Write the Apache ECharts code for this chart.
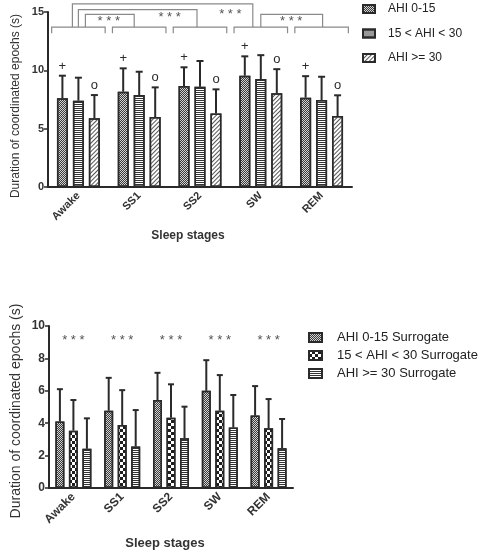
<!DOCTYPE html>
<html><head><meta charset="utf-8">
<script src="https://cdn.jsdelivr.net/npm/echarts@6/dist/echarts.min.js"></script>
<style>html,body{margin:0;padding:0;background:#fff}#c{width:484px;height:553px}</style>
</head><body><div id="c"></div>
<script>
// ---------- data ----------
const categories = ['Awake', 'SS1', 'SS2', 'SW', 'REM'];

const topNames = ['AHI 0-15', '15 < AHI < 30', 'AHI >= 30'];
const topMean0 = [7.6, 8.17, 8.65, 9.54, 7.66];
const topMean1 = [7.4, 7.88, 8.6, 9.25, 7.46];
const topMean2 = [5.9, 6.0, 6.3, 8.03, 6.08];
const topUpper0 = [9.54, 10.17, 10.26, 11.2, 9.5];
const topUpper1 = [9.37, 9.88, 10.8, 11.3, 9.45];
const topUpper2 = [7.88, 8.54, 8.37, 10.1, 7.86];
const topMarks = ['+', '', 'o'];
const topYMin = 0, topYMax = 15, topYStep = 5;

// comparisons between sleep stages: [fromIndex, toIndex, bracketTopValue, starValue]
const comparisons = [[0, 1, 14.8, 14.2], [0, 2, 15.2, 14.5], [0, 3, 15.7, 14.8], [3, 4, 14.8, 14.2]];
const comparisonLabel = '* * *';
const stageBracketValue = 13.7;

const botNames = ['AHI 0-15 Surrogate', '15 < AHI < 30 Surrogate', 'AHI >= 30 Surrogate'];
const botMean0 = [4.1, 4.77, 5.43, 6.0, 4.47];
const botMean1 = [3.54, 3.89, 4.34, 4.77, 3.69];
const botMean2 = [2.42, 2.56, 3.07, 3.73, 2.46];
const botUpper0 = [6.1, 6.8, 7.11, 7.89, 6.29];
const botUpper1 = [5.43, 6.04, 6.4, 6.97, 5.49];
const botUpper2 = [4.3, 4.81, 5.02, 5.74, 4.26];
const botStarValue = 9.1;
const botYMin = 0, botYMax = 10, botYStep = 2;

const yTitle = 'Duration of coordinated epochs (s)';
const xTitle = 'Sleep stages';

// ---------- styles ----------
const FONT = 'Liberation Sans, Arial, sans-serif';
const INK = '#2a2a2a';
const decalFine = { symbol: 'rect', symbolSize: 1, color: '#3a3a3a', dashArrayX: [[1, 1], [0, 1, 1, 0]], dashArrayY: [1, 0] };
const decalHoriz = { symbol: 'rect', symbolSize: 1, color: '#333', dashArrayX: [1, 0], dashArrayY: [1, 1] };
const decalDiag = { symbol: 'rect', symbolSize: 1, color: '#555', dashArrayX: [1, 0], dashArrayY: [1, 1.6], rotation: -Math.PI / 4 };
const decalChecker = { symbol: 'rect', symbolSize: 1, color: '#1e1e1e', dashArrayX: [[3, 3], [0, 3, 3, 0]], dashArrayY: [3, 0] };

function barSeries(name, data, gi, fill, decal, width, gap) {
  return {
    type: 'bar', name, data, xAxisIndex: gi, yAxisIndex: gi,
    barWidth: width, barGap: gap, z: 2,
    itemStyle: { color: fill, borderColor: INK, borderWidth: 1.5, decal }
  };
}

function errSeries(gi, means, uppers, offset, mark, cap) {
  return {
    type: 'custom', xAxisIndex: gi, yAxisIndex: gi, clip: false, z: 1,
    data: means.map((m, i) => [i, m, uppers[i]]),
    encode: { x: 0, y: [1, 2] },
    renderItem: (params, api) => {
      const i = api.value(0);
      const p0 = api.coord([i, api.value(1)]);
      const p1 = api.coord([i, api.value(2)]);
      const x = p0[0] + offset;
      const ch = [
        { type: 'line', shape: { x1: x, y1: p0[1], x2: x, y2: p1[1] }, style: { stroke: INK, lineWidth: 2 } },
        { type: 'line', shape: { x1: x - cap, y1: p1[1], x2: x + cap, y2: p1[1] }, style: { stroke: INK, lineWidth: 2 } }
      ];
      if (mark) ch.push({ type: 'text', style: { text: mark, x: x, y: p1[1] - 3, align: 'center', verticalAlign: 'bottom', fontSize: 13, fill: INK, fontFamily: FONT } });
      return { type: 'group', children: ch };
    }
  };
}

const stageBrackets = {
  type: 'custom', xAxisIndex: 0, yAxisIndex: 0, clip: false, z: 3,
  data: categories.map((c, i) => [i, stageBracketValue]),
  encode: { x: 0, y: 1 },
  renderItem: (params, api) => {
    const i = api.value(0);
    const p = api.coord([i, api.value(1)]);
    const half = api.size([1, 0])[0] * 0.44;
    const drop = 6;
    return { type: 'polyline', shape: { points: [[p[0] - half, p[1] + drop], [p[0] - half, p[1]], [p[0] + half, p[1]], [p[0] + half, p[1] + drop]] }, style: { stroke: '#8a8a8a', lineWidth: 1.2, fill: null } };
  }
};

const endOffsets = [[7, -5], [0, -3], [-6, -8], [0, 1]];
const compBrackets = {
  type: 'custom', xAxisIndex: 0, yAxisIndex: 0, clip: false, z: 3,
  data: comparisons.map((c, k) => [c[0], c[2], c[1], c[3], k]),
  encode: { x: 0, y: 1 },
  renderItem: (params, api) => {
    const a = api.value(0), top = api.value(1), b = api.value(2), sv = api.value(3), k = api.value(4);
    const pa = api.coord([a, top]), pb = api.coord([b, top]);
    const base = api.coord([a, stageBracketValue])[1];
    const xa = pa[0] + endOffsets[k][0], xb = pb[0] + endOffsets[k][1];
    const pm1 = api.coord([b - 1, sv]), pm2 = api.coord([b, sv]);
    return {
      type: 'group', children: [
        { type: 'polyline', shape: { points: [[xa, base], [xa, pa[1]], [xb, pa[1]], [xb, base]] }, style: { stroke: '#8a8a8a', lineWidth: 1.2, fill: null } },
        { type: 'text', style: { text: comparisonLabel, x: (pm1[0] + pm2[0]) / 2, y: pm1[1], align: 'center', verticalAlign: 'middle', fontSize: 13, fill: '#555', fontFamily: FONT } }
      ]
    };
  }
};

const botStars = {
  type: 'custom', xAxisIndex: 1, yAxisIndex: 1, clip: false, z: 3,
  data: categories.map((c, i) => [i, botStarValue]),
  encode: { x: 0, y: 1 },
  renderItem: (params, api) => {
    const p = api.coord([api.value(0), api.value(1)]);
    return { type: 'text', style: { text: comparisonLabel, x: p[0], y: p[1], align: 'center', verticalAlign: 'middle', fontSize: 13, fill: '#555', fontFamily: FONT } };
  }
};

function xAxisCfg(gi, fs) {
  return {
    type: 'category', gridIndex: gi, data: categories,
    axisLine: { lineStyle: { color: INK, width: 2 } },
    axisTick: { alignWithLabel: true, length: 4, lineStyle: { color: INK, width: 1.5 } },
    axisLabel: { rotate: 45, fontSize: fs, fontWeight: 'bold', color: '#333', fontFamily: FONT, margin: 7 }
  };
}
function yAxisCfg(gi, min, max, step, fs) {
  return {
    type: 'value', gridIndex: gi, min, max, interval: step,
    axisLine: { show: true, lineStyle: { color: INK, width: 2 } },
    axisTick: { show: true, length: 4, lineStyle: { color: INK, width: 1.5 } },
    splitLine: { show: false },
    axisLabel: { fontSize: fs, fontWeight: 'bold', color: '#333', fontFamily: FONT, margin: 4 }
  };
}

const chart = echarts.init(document.getElementById('c'), null, { renderer: 'canvas' });
chart.setOption({
  animation: false,
  backgroundColor: '#fff',
  textStyle: { fontFamily: FONT },
  grid: [
    { left: 48, top: 12, width: 304, height: 175 },
    { left: 49, top: 326, width: 244, height: 162 }
  ],
  xAxis: [xAxisCfg(0, 11), xAxisCfg(1, 12)],
  yAxis: [yAxisCfg(0, topYMin, topYMax, topYStep, 11), yAxisCfg(1, botYMin, botYMax, botYStep, 12)],
  legend: [
    { data: topNames, orient: 'vertical', left: 357, top: -2, icon: 'rect', itemWidth: 12, itemHeight: 8, itemGap: 12.5,
      textStyle: { fontSize: 12, color: '#222', fontFamily: FONT, padding: [0, 0, 0, 8] }, selectedMode: false },
    { data: botNames, orient: 'vertical', left: 303, top: 326, icon: 'rect', itemWidth: 13, itemHeight: 9, itemGap: 5,
      textStyle: { fontSize: 13, color: '#222', fontFamily: FONT, padding: [0, 0, 0, 10] }, selectedMode: false }
  ],
  graphic: [
    { type: 'text', x: 16, y: 106, rotation: Math.PI / 2, style: { text: yTitle, fontSize: 12, fill: '#333', fontFamily: FONT, align: 'center', verticalAlign: 'middle' } },
    { type: 'text', x: 16, y: 411, rotation: Math.PI / 2, style: { text: yTitle, fontSize: 14, fill: '#333', fontFamily: FONT, align: 'center', verticalAlign: 'middle' } },
    { type: 'text', x: 188, y: 236, style: { text: xTitle, fontSize: 12, fontWeight: 'bold', fill: '#333', fontFamily: FONT, align: 'center', verticalAlign: 'middle' } },
    { type: 'text', x: 165, y: 543, style: { text: xTitle, fontSize: 13, fontWeight: 'bold', fill: '#333', fontFamily: FONT, align: 'center', verticalAlign: 'middle' } }
  ],
  series: [
    barSeries(topNames[0], topMean0, 0, '#d4d4d4', decalFine, 11, '45%'),
    barSeries(topNames[1], topMean1, 0, '#fff', decalHoriz, 11, '45%'),
    barSeries(topNames[2], topMean2, 0, '#fff', decalDiag, 11, '45%'),
    errSeries(0, topMean0, topUpper0, -16, topMarks[0], 3.5),
    errSeries(0, topMean1, topUpper1, 0, topMarks[1], 3.5),
    errSeries(0, topMean2, topUpper2, 16, topMarks[2], 3.5),
    stageBrackets, compBrackets,
    barSeries(botNames[0], botMean0, 1, '#d4d4d4', decalFine, 9, '50%'),
    barSeries(botNames[1], botMean1, 1, '#fff', decalChecker, 9, '50%'),
    barSeries(botNames[2], botMean2, 1, '#fff', decalHoriz, 9, '50%'),
    errSeries(1, botMean0, botUpper0, -13.5, '', 3),
    errSeries(1, botMean1, botUpper1, 0, '', 3),
    errSeries(1, botMean2, botUpper2, 13.5, '', 3),
    botStars
  ]
});
</script></body></html>
